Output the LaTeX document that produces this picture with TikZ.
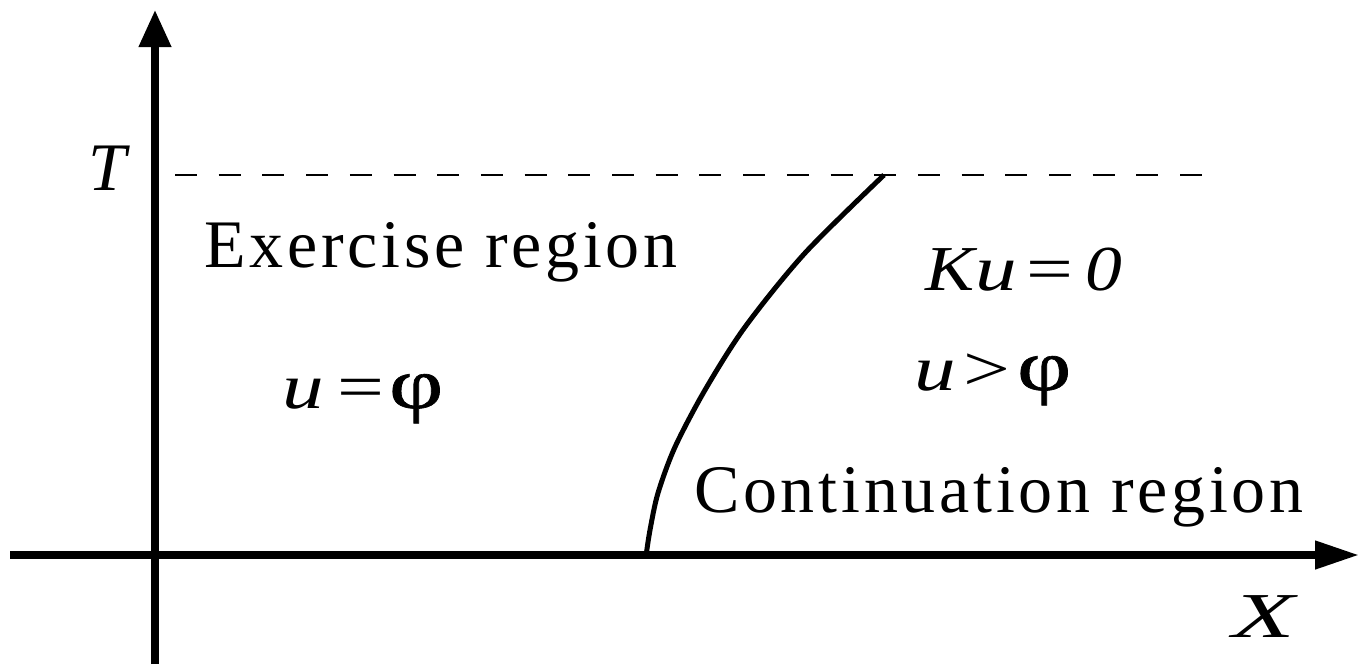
\documentclass[tikz,border=0pt]{standalone}
\usepackage{fontspec}
\usepackage{graphicx}
\setmainfont{Liberation Serif}
\usetikzlibrary{arrows.meta}
\newcommand\gat[3][1.3]{\rlap{\kern#2pt\makebox[0pt][c]{\scalebox{#1}[1]{#3}}}}
\newcommand\bigphi{{\fontsize{72}{76}\selectfont\addfontfeature{FakeBold=0.8}φ}}
\begin{document}
\begin{tikzpicture}[x=1pt,y=-1pt,
  vaxis/.style={line width=7.3pt,-{Triangle[length=37pt,width=31pt]}},
  haxis/.style={line width=7.5pt,-{Triangle[length=44pt,width=27pt]}},
  lbl/.style={inner sep=0pt,anchor=base west,font=\fontsize{68}{72}\selectfont\addfontfeature{LetterSpace=5.5}},
  mlbl/.style={inner sep=0pt,anchor=base west,font=\fontsize{64}{68}\selectfont},
  bound/.style={line width=5pt,line join=round}]
\useasboundingbox (0,0) rectangle (1359,664);
\coordinate (ybot) at (155,664);
\coordinate (ytop) at (155,10);
\coordinate (xl) at (10,555);
\coordinate (xr) at (1359,555);
\coordinate (dl) at (175,175);
\coordinate (dr) at (1202,175);
\draw[line width=1.5pt,dash pattern=on 22pt off 21.7pt] (dl) -- (dr);
\draw[vaxis] (ybot) -- (ytop);
\draw[haxis] (xl) -- (xr);
\draw[bound] plot[smooth,tension=0.5] coordinates {(646,556) (650,530) (658,493) (675,447) (705,390) (745,327) (805,253) (884,175)};
\node[mlbl,font=\fontsize{68}{72}\selectfont] (T) at (88,190) {\itshape T};
\node[mlbl,font=\fontsize{64}{68}\selectfont] (X) at (1232,637) {\itshape\scalebox{1.6}[1]{X}};
\node[lbl] (ex) at (204,267) {Exercise region};
\node[lbl] (co) at (694,512) {Continuation region};
\node[mlbl] (ueq) at (284,408) {\gat{19}{\itshape u}\gat{77}{=}\gat{132}{\bigphi}\kern160pt};
\node[mlbl] (ku) at (918,290) {\gat[1.15]{32}{\itshape K}\gat{78}{\itshape u}\gat{132}{=}\gat[1.15]{186}{\itshape 0}\kern210pt};
\node[mlbl] (ugt) at (914,390) {\gat{21}{\itshape u}\gat{72.5}{>}\gat{130}{\bigphi}\kern160pt};
\end{tikzpicture}
\end{document}
